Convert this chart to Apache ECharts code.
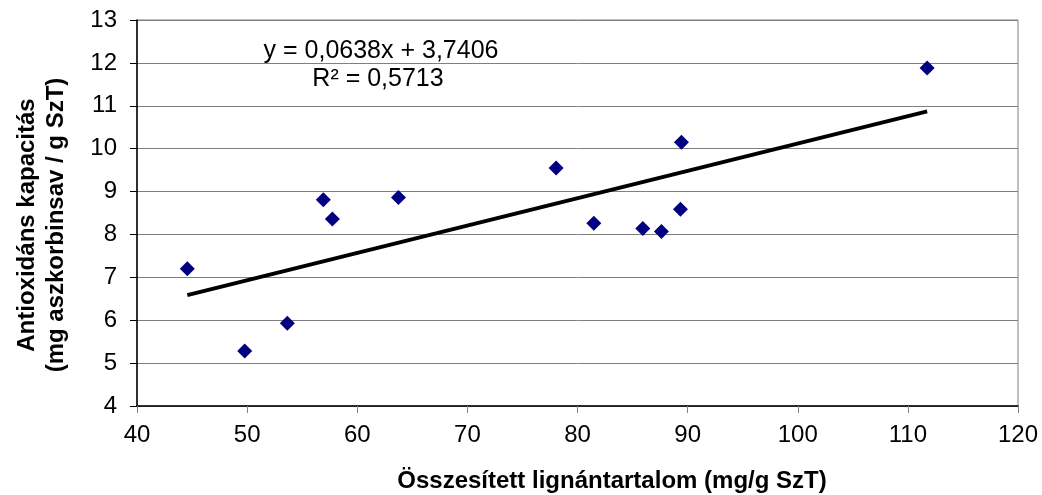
<!DOCTYPE html>
<html>
<head>
<meta charset="utf-8">
<script src="https://cdn.jsdelivr.net/npm/echarts@6/dist/echarts.min.js"></script>
<style>
  html, body { margin: 0; padding: 0; background: #fff; }
  #chart { width: 1042px; height: 495px; }
</style>
</head>
<body>
<div id="chart"></div>
<script>
// measured points: total lignan content vs antioxidant capacity
const lignan = [44.57, 49.78, 53.65, 56.92, 57.74, 63.74, 78.06, 81.48, 85.93, 87.62, 89.35, 89.44, 111.75]
const capacity = [7.2, 5.28, 5.93, 8.81, 8.36, 8.86, 9.55, 8.26, 8.14, 8.07, 8.59, 10.15, 11.88]
// linear trend line shown on the chart
const slope = 0.0638
const intercept = 3.7406
const rSquared = '0,5713'
const xTicks = [40, 50, 60, 70, 80, 90, 100, 110, 120]
const yTicks = [4, 5, 6, 7, 8, 9, 10, 11, 12, 13]

const font = '"Liberation Sans", Arial, sans-serif'
const points = lignan.map((x, i) => [x, capacity[i]])
const xMin = Math.min(...lignan)
const xMax = Math.max(...lignan)
const trend = [xMin, xMax].map(x => [x, slope * x + intercept])

const chart = echarts.init(document.getElementById('chart'))
chart.setOption({
  backgroundColor: '#fff',
  animation: false,
  grid: {
    left: 137,
    right: 24,
    top: 20,
    bottom: 89,
    show: true,
    borderColor: '#808080',
    borderWidth: 1,
  },
  xAxis: {
    type: 'value',
    min: xTicks[0],
    max: xTicks[xTicks.length - 1],
    interval: 10,
    axisLine: { show: true, lineStyle: { color: '#000', width: 1.5 } },
    axisTick: { show: true, length: 7, lineStyle: { color: '#808080' } },
    splitLine: { show: false },
    axisLabel: { color: '#000', fontSize: 24, fontFamily: font, margin: 17 },
  },
  yAxis: {
    type: 'value',
    min: yTicks[0],
    max: yTicks[yTicks.length - 1],
    interval: 1,
    axisLine: { show: true, lineStyle: { color: '#000', width: 1.5 } },
    axisTick: { show: true, length: 7, lineStyle: { color: '#000' } },
    splitLine: { show: true, lineStyle: { color: '#808080', width: 1 } },
    axisLabel: { color: '#000', fontSize: 24, fontFamily: font, margin: 20 },
  },
  graphic: [
    {
      type: 'text',
      x: 612,
      y: 481,
      style: {
        text: 'Összesített lignántartalom (mg/g SzT)',
        font: 'bold 24px ' + font,
        fill: '#000',
        align: 'center',
        verticalAlign: 'middle',
      },
    },
    {
      type: 'text',
      x: 42,
      y: 225,
      rotation: Math.PI / 2,
      style: {
        text: 'Antioxidáns kapacitás\n(mg aszkorbinsav / g SzT)',
        font: 'bold 24px ' + font,
        lineHeight: 29,
        fill: '#000',
        align: 'center',
        verticalAlign: 'middle',
      },
    },
    {
      type: 'text',
      x: 381,
      y: 51,
      style: {
        text: 'y = ' + String(slope).replace('.', ',') + 'x + ' + String(intercept).replace('.', ','),
        font: '25px ' + font,
        fill: '#000',
        align: 'center',
        verticalAlign: 'middle',
      },
    },
    {
      type: 'text',
      x: 378,
      y: 79,
      style: {
        text: 'R² = ' + rSquared,
        font: '25px ' + font,
        fill: '#000',
        align: 'center',
        verticalAlign: 'middle',
      },
    },
  ],
  series: [
    {
      type: 'line',
      data: trend,
      symbol: 'none',
      lineStyle: { color: '#000', width: 4 },
      z: 2,
    },
    {
      type: 'scatter',
      data: points,
      symbol: 'diamond',
      symbolSize: 15,
      itemStyle: { color: '#000080', opacity: 1 },
      z: 3,
    },
  ],
})
</script>
</body>
</html>
